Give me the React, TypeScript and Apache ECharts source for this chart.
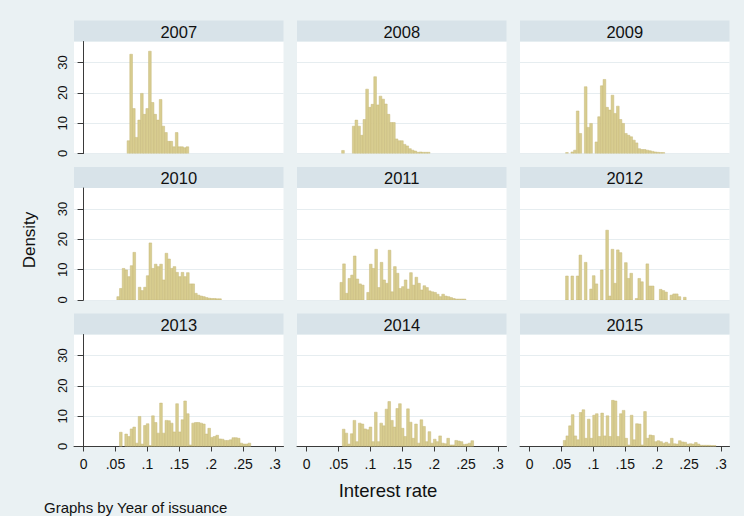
import React, { useEffect, useRef } from 'react';
import * as echarts from 'echarts';

// ---- data ----
const years = ['2007', '2008', '2009', '2010', '2011', '2012', '2013', '2014', '2015'];
const binWidth = 0.0042;
const binStarts = [0.0683, 0.055, 0.0565, 0.0522, 0.0524, 0.0565, 0.0563, 0.0561, 0.0529];

const d2007 = [4.2, 32.7, 14.8, 5.3, 11, 19.8, 12.9, 14.8, 33.7, 16.8, 12.9, 11, 17.8, 9, 6.9, 4, 4, 2.2, 6.9, 2.2, 2.2, 1.9, 2.2];
const d2008 = [1, 0, 0, 0, 9, 11, 9, 6, 11.2, 21.2, 15.2, 16.2, 25.3, 16, 18.9, 17.9, 16.3, 12.9, 10.2, 10.2, 4.8, 4.2, 4.2, 3, 2.5, 1.6, 1.1, 0.8, 0.4, 0.5, 0.4, 0.4, 0.4];
const d2009 = [0.3, 0, 0.5, 1.1, 14, 6.6, 0, 22, 8.6, 9.9, 0, 3.8, 12.1, 22.3, 24.4, 15.2, 14.3, 19.2, 13.2, 15.6, 11.2, 9.9, 6.6, 6, 5.5, 4.4, 3.5, 1.6, 1.3, 1.3, 1.1, 0.9, 0.7, 0.5, 0.4, 0.3, 0.3];
const d2010 = [1.1, 3.8, 10.4, 9.9, 7.7, 11.3, 15.7, 0, 4.2, 3.1, 4.2, 8, 18.8, 10.4, 11.8, 11, 11.8, 6.6, 15.4, 13.5, 10.4, 11, 9.1, 7.7, 9.1, 7.7, 9, 5.3, 5.3, 2.2, 1.6, 1.3, 1.1, 0.8, 0.6, 0.5, 0.5, 0.4, 0.4];
const d2011 = [5.8, 11.9, 2.2, 7.1, 8.2, 14.5, 6.9, 5.3, 4.9, 0, 2.5, 11.8, 10.4, 16.7, 4.1, 12.4, 6.6, 5.5, 16.4, 2.7, 11, 8.8, 3.8, 4.4, 6.6, 3.6, 9, 4.9, 7.5, 5.5, 3.3, 4.7, 4.1, 3, 2.7, 2.5, 1.9, 1.1, 1.9, 1.3, 1.1, 0.8, 0.5, 0.3, 0.3, 0.3, 0.3];
const d2012 = [7.9, 0, 7.9, 0, 7.9, 14.8, 0, 12.4, 0, 3.6, 8, 5.3, 0, 9.9, 0, 23, 1.3, 16.7, 5.5, 16.5, 15.6, 0, 12.3, 7.1, 8.8, 0, 0.5, 7.1, 6, 0, 11.9, 4.6, 4.6, 0, 0, 3.5, 3.1, 2.6, 0, 1.6, 2, 2, 1.1, 0, 0.9];
const d2013 = [4.7, 0, 4.1, 3.3, 5.8, 6.4, 1.1, 9.9, 0.8, 6.9, 7.5, 0.3, 10.1, 7.9, 4.4, 14.3, 4.4, 8.6, 8.5, 7.7, 4.8, 14.1, 4.8, 8.8, 15, 10.8, 0.5, 7.7, 7.9, 7.9, 7.7, 7.4, 4.1, 6, 3, 3.3, 3.7, 2.5, 2.4, 2, 2, 2.2, 2.9, 2.9, 2.7, 1.1, 0.8, 0.8, 1.1];
const d2014 = [5.7, 4.4, 0.8, 4.2, 8.6, 1.6, 7.7, 7.4, 5.8, 5.5, 6.4, 1.6, 11.3, 1.6, 7.7, 6.8, 12.3, 14.8, 8.6, 6.4, 12.5, 14.1, 6, 3.3, 12.4, 8, 2.7, 7.4, 1.1, 8.8, 6.6, 1.6, 4.9, 1.1, 2.4, 1.6, 3.5, 1.1, 0.9, 2.7, 0.5, 0.5, 2, 1.8, 1.6, 0.7, 0.8, 1.1, 1.9];
const d2015 = [2, 3.5, 6.8, 10.5, 3.5, 2.2, 11.2, 12.1, 2.7, 9, 2.7, 10.3, 10.8, 3.3, 11, 3.5, 10.1, 3.3, 15.2, 15, 3.3, 10.8, 11.9, 2.7, 0.5, 10.3, 2.2, 7.5, 7.4, 0.5, 11.5, 2.7, 3.8, 3.6, 1.6, 1.9, 1.6, 1.1, 1.4, 0.9, 2.7, 0.9, 0.8, 1.9, 1.5, 1.4, 0.8, 0.9, 0.8, 1.3, 0.8, 0.4, 0.4, 0.4, 0.4, 0.3, 0.3];
const densities = [d2007, d2008, d2009, d2010, d2011, d2012, d2013, d2014, d2015];

const xTickValues = [0, 0.05, 0.1, 0.15, 0.2, 0.25, 0.3];
const xTickLabels = ['0', '.05', '.1', '.15', '.2', '.25', '.3'];
const yTickValues = [0, 10, 20, 30];
const yTickLabels = ['0', '10', '20', '30'];

const xTitle = 'Interest rate';
const yTitle = 'Density';
const note = 'Graphs by Year of issuance';

// ---- layout / style ----
const FONT = '"Liberation Sans", Arial, sans-serif';
const colLeft = [74, 297, 520];
const colWidth = 209.5;
const rowTop = [41.5, 188, 334.5];
const plotH = 112;
const headerH = 21;
const xMin = -0.015;
const xMax = 0.3135;
const yMax = 36.9;
const BG = '#eaf1f3';
const HEADER = '#d8e3e9';
const BAR_FILL = '#d8cd90';
const BAR_STROKE = '#c7b97b';
const AXIS = '#3a3a3a';
const GRIDLINE = '#e6edf0';

function labelFor(v: number, values: number[], labels: string[]) {
  for (let i = 0; i < values.length; i++) {
    if (Math.abs(values[i] - v) < 1e-9) return labels[i];
  }
  return '';
}

export default function App() {
  const ref = useRef<HTMLDivElement>(null);

  useEffect(() => {
    if (!ref.current) return;
    const chart = echarts.init(ref.current, undefined, { renderer: 'svg' });

    const grids: any[] = [];
    const xAxes: any[] = [];
    const yAxes: any[] = [];
    const series: any[] = [];
    const graphics: any[] = [];

    for (let k = 0; k < 9; k++) {
      const r = Math.floor(k / 3);
      const c = k % 3;
      grids.push({
        left: colLeft[c],
        top: rowTop[r],
        width: colWidth,
        height: plotH,
        show: true,
        backgroundColor: '#ffffff',
        borderWidth: 0,
        containLabel: false,
      });
      const bottomRow = r === 2;
      xAxes.push({
        type: 'value',
        gridIndex: k,
        min: xMin,
        max: xMax,
        axisLine: { show: bottomRow, onZero: false, lineStyle: { color: AXIS, width: 1 } },
        axisTick: { show: bottomRow, length: 5, customValues: xTickValues, lineStyle: { color: AXIS } },
        axisLabel: {
          show: bottomRow,
          customValues: xTickValues,
          formatter: (v: number) => labelFor(v, xTickValues, xTickLabels),
          fontFamily: FONT,
          fontSize: 14,
          color: '#111',
          margin: 10,
        },
        splitLine: { show: false },
      });
      const firstCol = c === 0;
      yAxes.push({
        type: 'value',
        gridIndex: k,
        min: 0,
        max: yMax,
        interval: 10,
        axisLine: { show: firstCol, lineStyle: { color: AXIS, width: 1 } },
        axisTick: { show: firstCol, length: 6, customValues: yTickValues, lineStyle: { color: AXIS } },
        axisLabel: {
          show: firstCol,
          customValues: yTickValues,
          formatter: (v: number) => labelFor(v, yTickValues, yTickLabels),
          rotate: 90,
          fontFamily: FONT,
          fontSize: 13,
          color: '#111',
          margin: 5,
        },
        splitLine: { show: true, lineStyle: { color: GRIDLINE, width: 1 } },
      });
      const start = binStarts[k];
      const data = densities[k]
        .map((h, i) => [start + i * binWidth, start + (i + 1) * binWidth, h])
        .filter((d) => d[2] > 0);
      series.push({
        type: 'custom',
        name: years[k],
        xAxisIndex: k,
        yAxisIndex: k,
        clip: true,
        encode: { x: [0, 1], y: 2 },
        data,
        renderItem: (_params: any, api: any) => {
          const x0 = api.value(0);
          const x1 = api.value(1);
          const h = api.value(2);
          const p0 = api.coord([x0, h]);
          const p1 = api.coord([x1, 0]);
          return {
            type: 'rect',
            shape: { x: p0[0], y: p0[1], width: p1[0] - p0[0], height: p1[1] - p0[1] },
            style: { fill: BAR_FILL, stroke: BAR_STROKE, lineWidth: 0.5 },
          };
        },
      });
      graphics.push({
        type: 'rect',
        shape: { x: colLeft[c], y: rowTop[r] - headerH, width: colWidth, height: headerH },
        style: { fill: HEADER },
        silent: true,
      });
      graphics.push({
        type: 'text',
        x: colLeft[c] + colWidth / 2,
        y: rowTop[r] - headerH / 2 + 0.5,
        style: {
          text: years[k],
          font: `16.5px ${FONT}`,
          fill: '#111',
          align: 'center',
          verticalAlign: 'middle',
          textAlign: 'center',
          textVerticalAlign: 'middle',
        },
        silent: true,
      });
    }

    graphics.push({
      type: 'text',
      x: 29,
      y: 240,
      rotation: Math.PI / 2,
      style: {
        text: yTitle,
        font: `17px ${FONT}`,
        fill: '#111',
        align: 'center',
        verticalAlign: 'middle',
        textAlign: 'center',
        textVerticalAlign: 'middle',
      },
      silent: true,
    });
    graphics.push({
      type: 'text',
      x: 388,
      y: 490,
      style: {
        text: xTitle,
        font: `18.5px ${FONT}`,
        fill: '#111',
        align: 'center',
        verticalAlign: 'middle',
        textAlign: 'center',
        textVerticalAlign: 'middle',
      },
      silent: true,
    });
    graphics.push({
      type: 'text',
      x: 44,
      y: 507,
      style: {
        text: note,
        font: `15px ${FONT}`,
        fill: '#111',
        align: 'left',
        verticalAlign: 'middle',
        textAlign: 'left',
        textVerticalAlign: 'middle',
      },
      silent: true,
    });

    chart.setOption({
      animation: false,
      backgroundColor: BG,
      grid: grids,
      xAxis: xAxes,
      yAxis: yAxes,
      series,
      graphic: graphics,
    });

    return () => {
      chart.dispose();
    };
  }, []);

  return (
    <div
      ref={ref}
      style={{ position: 'fixed', left: 0, top: 0, width: 744, height: 516 }}
    />
  );
}
